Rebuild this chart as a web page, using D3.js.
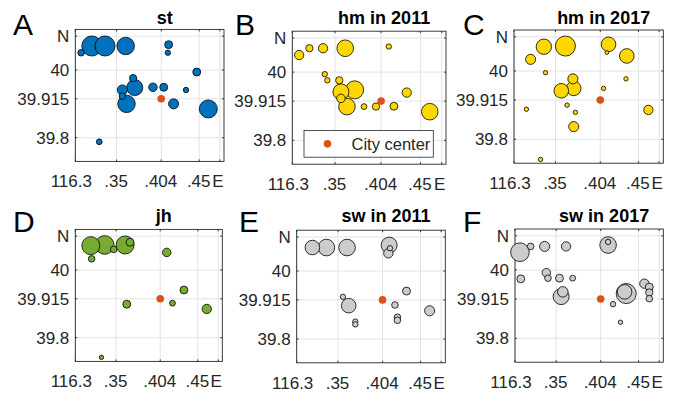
<!DOCTYPE html>
<html>
<head>
<meta charset="utf-8">
<script src="https://cdn.jsdelivr.net/npm/d3@7"></script>
<style>
  body { margin: 0; background: #fff; }
  text { font-family: "Liberation Sans", Arial, sans-serif; }
</style>
</head>
<body>
<svg width="680" height="395"></svg>
<script>
// axis ticks shared by all six maps
const xTicks = [116.3, 116.35, 116.404, 116.45, 116.475];
const xTickLabels = ["116.3", ".35", ".404", ".45", "E"];
const yTicks = [39.8, 39.915, 40, 40.1];
const yTickLabels = ["39.8", "39.915", "40", "N"];
const cityCenter = [116.404, 39.915];

const panelLetters = ["A", "B", "C", "D", "E", "F"];
const panelTitles = ["st", "hm in 2011", "hm in 2017", "jh", "sw in 2011", "sw in 2017"];

// [lon, lat, size]
const st = [
  [116.307, 40.051, 9], [116.320, 40.071, 83], [116.336, 40.071, 83], [116.361, 40.071, 63],
  [116.413, 40.075, 13], [116.412, 40.051, 6], [116.447, 39.994, 13], [116.370, 39.976, 11],
  [116.372, 39.948, 53], [116.357, 39.941, 21], [116.357, 39.923, 9], [116.362, 39.900, 63],
  [116.394, 39.949, 15], [116.407, 39.949, 13], [116.434, 39.941, 6], [116.419, 39.900, 21],
  [116.461, 39.885, 67], [116.329, 39.788, 7]
];
const hm2011 = [
  [116.308, 40.050, 18], [116.320, 40.070, 11], [116.336, 40.070, 18], [116.362, 40.070, 57],
  [116.413, 40.075, 6], [116.338, 39.994, 6], [116.341, 39.976, 6], [116.355, 39.976, 11],
  [116.373, 39.948, 67], [116.357, 39.942, 53], [116.357, 39.923, 15], [116.364, 39.899, 57],
  [116.384, 39.899, 7], [116.398, 39.899, 11], [116.419, 39.900, 13], [116.434, 39.940, 18],
  [116.461, 39.884, 57]
];
const hm2017 = [
  [116.336, 40.071, 49], [116.362, 40.073, 83], [116.414, 40.078, 44], [116.412, 40.054, 3],
  [116.436, 40.044, 44], [116.320, 40.034, 21], [116.338, 39.995, 4], [116.435, 39.977, 4],
  [116.371, 39.977, 21], [116.372, 39.949, 44], [116.357, 39.942, 44], [116.408, 39.949, 4],
  [116.364, 39.900, 4], [116.374, 39.879, 4], [116.315, 39.888, 4], [116.462, 39.886, 18],
  [116.372, 39.837, 21], [116.332, 39.741, 4]
];
const jh = [
  [116.319, 40.072, 67], [116.336, 40.074, 72], [116.361, 40.074, 67], [116.367, 40.082, 13],
  [116.347, 40.061, 9], [116.320, 40.033, 9], [116.412, 40.052, 15], [116.433, 39.941, 13],
  [116.363, 39.899, 13], [116.419, 39.902, 7], [116.461, 39.885, 18], [116.332, 39.742, 4]
];
const sw2011 = [
  [116.319, 40.069, 44], [116.336, 40.069, 57], [116.361, 40.069, 57], [116.412, 40.076, 53],
  [116.411, 40.052, 18], [116.413, 40.067, 6], [116.433, 39.941, 13], [116.356, 39.924, 6],
  [116.363, 39.898, 44], [116.419, 39.900, 9], [116.461, 39.883, 21], [116.422, 39.864, 9],
  [116.422, 39.855, 9], [116.371, 39.851, 6], [116.371, 39.843, 6]
];
const sw2017 = [
  [116.306, 40.052, 72], [116.319, 40.069, 9], [116.336, 40.069, 21], [116.362, 40.069, 18],
  [116.413, 40.073, 57], [116.413, 40.082, 6], [116.307, 39.974, 13], [116.338, 39.992, 15],
  [116.340, 39.976, 9], [116.354, 39.976, 13], [116.370, 39.976, 7], [116.356, 39.922, 53],
  [116.358, 39.936, 23], [116.435, 39.931, 83], [116.433, 39.936, 44], [116.457, 39.960, 18],
  [116.463, 39.950, 13], [116.463, 39.934, 11], [116.463, 39.916, 9], [116.419, 39.900, 6],
  [116.428, 39.847, 4]
];

const panelData = [st, hm2011, hm2017, jh, sw2011, sw2017];
const panelColors = ["#0072BD", "#FFD700", "#FFD700", "#77AC30", "#CCCCCC", "#CCCCCC"];

// axes boxes in the page
const layout = [
  {x0: 75.3, x1: 224, y0: 29.4, y1: 161.4, lx: 13, ly: 35, ty: 23.5},
  {x0: 292.3, x1: 446, y0: 31.2, y1: 164.2, lx: 235, ly: 35, ty: 23.5},
  {x0: 514, x1: 663.3, y0: 30, y1: 163.2, lx: 463, ly: 35, ty: 23.5},
  {x0: 75.3, x1: 222.3, y0: 229.4, y1: 361.4, lx: 13, ly: 232, ty: 222},
  {x0: 296.7, x1: 445.3, y0: 230.2, y1: 362.8, lx: 239, ly: 232, ty: 222},
  {x0: 515, x1: 663.3, y0: 229, y1: 362.2, lx: 463, ly: 232, ty: 222}
];

const svg = d3.select("svg");
const ink = "#262626";
const size = d3.scaleSqrt().domain([0, 100]).range([0, 11]);

layout.forEach((b, i) => {
  const x = d3.scaleLinear().domain([116.3, 116.48]).range([b.x0, b.x1]);
  const y = d3.scaleLinear().domain([39.73, 40.12]).range([b.y1, b.y0]);
  const g = svg.append("g");

  // grid
  g.selectAll(".gx").data(xTicks).join("line")
    .attr("x1", d => x(d)).attr("x2", d => x(d))
    .attr("y1", b.y0).attr("y2", b.y1)
    .attr("stroke", "#e3e3e3").attr("stroke-width", 1);
  g.selectAll(".gy").data(yTicks).join("line")
    .attr("class", "gy")
    .attr("x1", b.x0).attr("x2", b.x1)
    .attr("y1", d => y(d)).attr("y2", d => y(d))
    .attr("stroke", "#e3e3e3").attr("stroke-width", 1);

  // box + inward ticks
  g.append("rect")
    .attr("x", b.x0).attr("y", b.y0)
    .attr("width", b.x1 - b.x0).attr("height", b.y1 - b.y0)
    .attr("fill", "none").attr("stroke", ink).attr("stroke-width", 0.9);
  const tl = 2;
  xTicks.forEach(t => {
    g.append("line").attr("x1", x(t)).attr("x2", x(t)).attr("y1", b.y1).attr("y2", b.y1 - tl)
      .attr("stroke", ink).attr("stroke-width", 0.9);
    g.append("line").attr("x1", x(t)).attr("x2", x(t)).attr("y1", b.y0).attr("y2", b.y0 + tl)
      .attr("stroke", ink).attr("stroke-width", 0.9);
  });
  yTicks.forEach(t => {
    g.append("line").attr("x1", b.x0).attr("x2", b.x0 + tl).attr("y1", y(t)).attr("y2", y(t))
      .attr("stroke", ink).attr("stroke-width", 0.9);
    g.append("line").attr("x1", b.x1).attr("x2", b.x1 - tl).attr("y1", y(t)).attr("y2", y(t))
      .attr("stroke", ink).attr("stroke-width", 0.9);
  });

  // tick labels
  g.selectAll(".xl").data(xTicks).join("text")
    .attr("x", d => x(d))
    .attr("dx", (d, j) => j === 0 ? -4 : (j === 4 ? -2 : -0.5))
    .attr("y", b.y1 + 26)
    .attr("text-anchor", "middle")
    .attr("font-size", 17).attr("fill", ink)
    .text((d, j) => xTickLabels[j]);
  g.selectAll(".yl").data(yTicks).join("text")
    .attr("class", "yl")
    .attr("x", b.x0 - 6)
    .attr("y", d => y(d))
    .attr("dy", "0.36em")
    .attr("text-anchor", "end")
    .attr("font-size", 17).attr("fill", ink)
    .text((d, j) => yTickLabels[j]);

  // bubbles, larger first
  const pts = panelData[i].slice().sort((a, c) => c[2] - a[2]);
  g.selectAll(".b").data(pts).join("circle")
    .attr("cx", d => x(d[0])).attr("cy", d => y(d[1]))
    .attr("r", d => size(d[2]))
    .attr("fill", panelColors[i])
    .attr("stroke", "#000").attr("stroke-width", 0.8);

  // city center
  g.append("circle")
    .attr("cx", x(cityCenter[0])).attr("cy", y(cityCenter[1]))
    .attr("r", 3.8).attr("fill", "#D95319");

  // title and letter
  g.append("text")
    .attr("x", (b.x0 + b.x1) / 2 + 15).attr("y", b.ty)
    .attr("text-anchor", "middle")
    .attr("font-size", 18).attr("font-weight", "bold").attr("fill", "#000")
    .text(panelTitles[i]);
  g.append("text")
    .attr("x", b.lx).attr("y", b.ly)
    .attr("font-size", 30).attr("fill", "#000")
    .text(panelLetters[i]);

  // legend in panel B
  if (i === 1) {
    const lw = 129.3, lh = 26.7;
    const lx = b.x1 - 12.7 - lw, ly = b.y1 - 7 - lh;
    const leg = g.append("g");
    leg.append("rect").attr("x", lx).attr("y", ly).attr("width", lw).attr("height", lh)
      .attr("fill", "#fff").attr("stroke", ink).attr("stroke-width", 0.8);
    leg.append("circle").attr("cx", lx + 23.5).attr("cy", ly + lh / 2)
      .attr("r", 3.8).attr("fill", "#D95319");
    leg.append("text").attr("x", lx + 47.5).attr("y", ly + lh / 2).attr("dy", "0.36em")
      .attr("font-size", 16.5).attr("fill", ink).text("City center");
  }
});
</script>
</body>
</html>
